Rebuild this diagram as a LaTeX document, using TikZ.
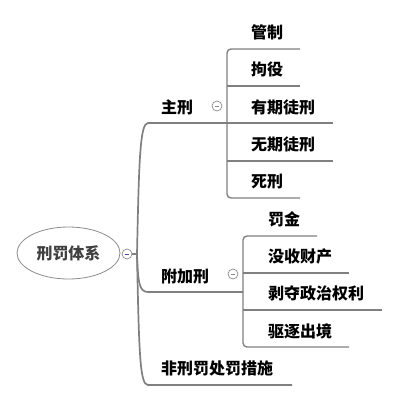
\documentclass[tikz,border=0pt]{standalone}
\usepackage{fontspec}
\newfontfamily\cjk{Noto Sans CJK SC}
\usetikzlibrary{shapes.geometric}

\tikzset{
  topic/.style={font=\cjk\bfseries\fontsize{16}{16}\selectfont, anchor=west, inner sep=0pt},
  branch/.style={draw=black!50, line width=1.7pt},
  twig/.style={draw=black!50, line width=1.4pt, rounded corners=4pt},
  fold/.style={circle, draw=black!45, fill=white, line width=0.7pt, minimum size=10pt, inner sep=0pt},
}

\begin{document}
\begin{tikzpicture}[x=1pt,y=-1pt]
\useasboundingbox (0,0) rectangle (402,400);

% root
\node[ellipse, draw=black!45, line width=0.8pt, minimum width=103pt, minimum height=52pt,
      font=\cjk\bfseries\fontsize{16}{16}\selectfont, text=black!75] (root) at (68.5,253) {刑罚体系};
\node[fold] (f0) at (127,254) {};
\draw[blue!40!gray, line width=0.8pt] (f0.center) +(-2.2,0) -- +(2.2,0);
\coordinate (hub) at (137,254);
\draw[branch] (f0) -- (hub);

% main branches
\node[topic] (zx) at (161,107) {主刑};
\node[topic] (fj) at (161,276) {附加刑};
\node[topic] (fx) at (161,368) {非刑罚处罚措施};
\coordinate (k1) at (227,123);
\coordinate (k2) at (243,292);
\coordinate (k3) at (292,385);
\draw[branch] (hub) .. controls (139,160) and (140,123) .. (148,123) -- (k1);
\draw[branch] (hub) .. controls (138,282) and (139,292) .. (148,292) -- (k2);
\draw[branch] (hub) .. controls (139,355) and (140,385) .. (148,385) -- (k3);

% 主刑
\node[fold] (f1) at (217,106) {};
\draw[black!45, line width=0.8pt] (f1.center) +(-2.2,0) -- +(2.2,0);
\node[topic] (gz) at (251,32)  {管制};
\node[topic] (jy) at (251,69)  {拘役};
\node[topic] (yq) at (251,107) {有期徒刑};
\node[topic] (wq) at (251,144) {无期徒刑};
\node[topic] (sx) at (251,182) {死刑};
\coordinate (gz-e) at (300,49);
\coordinate (jy-e) at (300,86);
\coordinate (yq-e) at (333,123);
\coordinate (wq-e) at (333,161);
\coordinate (sx-e) at (300,198);
\draw[twig] (gz-e) -- (k1 |- gz-e) -- (k1 |- sx-e) -- (sx-e);
\draw[twig] (k1 |- jy-e) -- (jy-e);
\draw[twig] (k1 |- yq-e) -- (yq-e);
\draw[twig] (k1 |- wq-e) -- (wq-e);

% 附加刑
\node[fold] (f2) at (233,274) {};
\draw[black!45, line width=0.8pt] (f2.center) +(-2.2,0) -- +(2.2,0);
\node[topic] (fm) at (268,219) {罚金};
\node[topic] (ms) at (268,256) {没收财产};
\node[topic] (bd) at (268,293) {剥夺政治权利};
\node[topic] (qz) at (268,331) {驱逐出境};
\coordinate (fm-e) at (317,236);
\coordinate (ms-e) at (349,273);
\coordinate (bd-e) at (382,310);
\coordinate (qz-e) at (349,347);
\draw[twig] (fm-e) -- (k2 |- fm-e) -- (k2 |- qz-e) -- (qz-e);
\draw[twig] (k2 |- ms-e) -- (ms-e);
\draw[twig] (k2 |- bd-e) -- (bd-e);
\end{tikzpicture}
\end{document}
